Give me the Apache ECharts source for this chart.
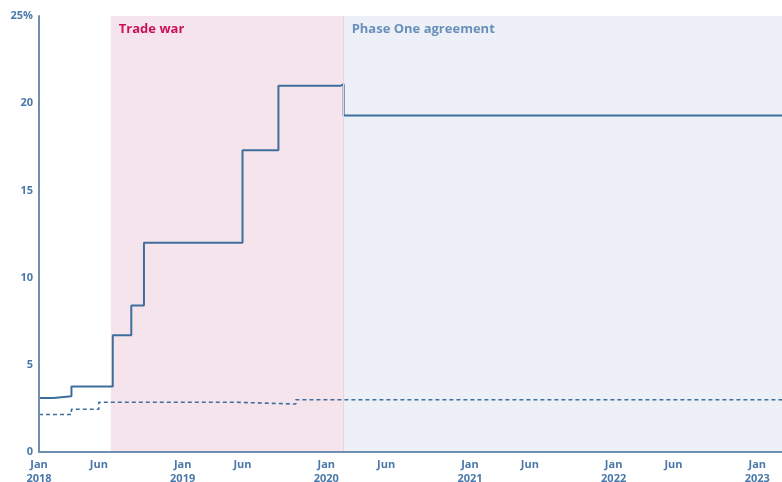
<!DOCTYPE html>
<html>
<head>
<meta charset="utf-8">
<script src="https://cdn.jsdelivr.net/npm/echarts@6/dist/echarts.min.js"></script>
<style>
  html, body { margin: 0; padding: 0; background: #fff; }
  #chart { width: 782px; height: 482px; }
</style>
</head>
<body>
<div id="chart"></div>
<script>
// US tariffs on Chinese exports (%), value from each date on
var chinaDates = ['2018-01-01', '2018-02-07', '2018-03-23', '2018-07-06', '2018-08-23', '2018-09-24',
  '2019-06-01', '2019-09-01', '2020-02-07', '2020-02-14', '2023-03-03']
var chinaValues = [3.1, 3.2, 3.75, 6.7, 8.4, 12.0, 17.3, 21.0, 21.1, 19.3, 19.3]

// US tariffs on rest-of-world exports (%)
var rowDates = ['2018-01-01', '2018-03-23', '2018-06-01', '2019-05-18', '2019-10-15', '2023-03-03']
var rowValues = [2.15, 2.45, 2.85, 2.75, 3.0, 3.0]

var tickDates = ['2018-01-01', '2018-06-01', '2019-01-01', '2019-06-01', '2020-01-01', '2020-06-01',
  '2021-01-01', '2021-06-01', '2022-01-01', '2022-06-01', '2023-01-01']
var yTicks = [0, 5, 10, 15, 20, 25]

var tradeWar = ['2018-07-01', '2020-02-14']
var phaseOne = ['2020-02-14', '2023-03-03']

var textBlue = '#4a78a7'
var lineBlue = '#3f6e9d'

// date string -> months since Jan 2018 (fractional)
function toMonth(s) {
  var p = s.split('-').map(Number)
  var days = new Date(p[0], p[1], 0).getDate()
  return (p[0] - 2018) * 12 + (p[1] - 1) + (p[2] - 1) / days
}
// step series: hold previous value until the change date
function steps(dates, values) {
  var out = []
  dates.forEach(function(d, i) {
    var x = toMonth(d)
    if (i > 0) out.push([x, values[i - 1]])
    out.push([x, values[i]])
  })
  return out
}
var labelFor = {}
tickDates.forEach(function(d) {
  var p = d.split('-')
  labelFor[toMonth(d)] = p[1] === '01' ? 'Jan\n' + p[0] : 'Jun'
})

var chart = echarts.init(document.getElementById('chart'))
var option = {
  animation: false,
  grid: { left: 39, right: 0, top: 16, bottom: 30, outerBoundsMode: 'none', containLabel: false },
  xAxis: {
    type: 'value',
    z: 10,
    min: toMonth('2018-01-01'),
    max: toMonth('2023-03-03'),
    splitLine: { show: false },
    axisTick: { show: false },
    axisLine: { lineStyle: { color: '#6f8eb0', width: 2 } },
    axisLabel: {
      customValues: tickDates.map(toMonth),
      color: textBlue,
      fontFamily: 'Open Sans',
      fontWeight: 'bold',
      fontSize: 11,
      lineHeight: 14,
      margin: 6,
      hideOverlap: false,
      formatter: function(v) { return labelFor[v] || '' }
    }
  },
  yAxis: {
    type: 'value',
    z: 10,
    min: 0,
    max: 25,
    interval: 5,
    splitLine: { show: false },
    axisTick: { show: false },
    axisLine: { show: true, lineStyle: { color: '#6f8eb0', width: 2 } },
    axisLabel: {
      color: textBlue,
      fontFamily: 'Open Sans',
      fontWeight: 'bold',
      fontSize: 11,
      margin: 6,
      formatter: function(v) { return v === 25 ? '25%' : v }
    }
  },
  series: [
    {
      // background bands only
      name: 'periods',
      type: 'line',
      z: 1,
      data: [],
      markArea: {
        silent: true,
        data: [
          [
            { xAxis: toMonth(tradeWar[0]), yAxis: 0, itemStyle: { color: '#f6e4ec' },
              label: { show: true, position: [8, 7], color: '#c8125a', fontFamily: 'Open Sans',
                fontWeight: 'bold', fontSize: 13, formatter: 'Trade war' } },
            { xAxis: toMonth(tradeWar[1]), yAxis: 25 }
          ],
          [
            { xAxis: toMonth(phaseOne[0]), yAxis: 0, itemStyle: { color: '#edf0f6' },
              label: { show: true, position: [8, 7], color: '#6890bb', fontFamily: 'Open Sans',
                fontWeight: 'bold', fontSize: 13, formatter: 'Phase One agreement' } },
            { xAxis: toMonth(phaseOne[1]), yAxis: 25 }
          ]
        ]
      },
      markLine: {
        silent: true,
        symbol: 'none',
        label: { show: false },
        lineStyle: { color: '#e3d5df', width: 1, type: 'solid' },
        data: [[{ coord: [toMonth(phaseOne[0]), 0] }, { coord: [toMonth(phaseOne[0]), 25] }]]
      }
    },
    {
      name: 'China',
      type: 'line',
      symbol: 'none',
      z: 3,
      lineStyle: { color: lineBlue, width: 2 },
      data: steps(chinaDates, chinaValues)
    },
    {
      name: 'ROW',
      type: 'line',
      symbol: 'none',
      z: 3,
      lineStyle: { color: lineBlue, width: 1.6, type: [4, 3] },
      data: steps(rowDates, rowValues)
    }
  ],
  graphic: [
    { type: 'text', left: 524, top: 127, style: { text: 'US tariffs on\nChinese exports', fill: textBlue,
      font: 'bold 13px "Open Sans"', lineHeight: 17 } },
    { type: 'text', right: 0, top: 123, style: { text: '19.3%', fill: textBlue,
      font: 'bold 13px "Open Sans"' } },
    { type: 'text', left: 526, top: 359, style: { text: 'US tariffs on\nROW exports', fill: textBlue,
      font: 'bold 13px "Open Sans"', lineHeight: 17 } },
    { type: 'text', right: 0, top: 379, style: { text: '3.0%', fill: textBlue,
      font: 'bold 13px "Open Sans"' } }
  ]
}
chart.setOption(option)
</script>
</body>
</html>
